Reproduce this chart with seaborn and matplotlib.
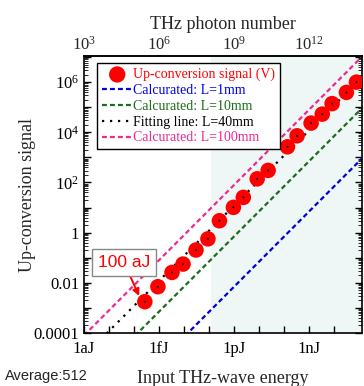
import numpy as np
import pandas as pd
import matplotlib
matplotlib.use('Agg')
import matplotlib.pyplot as plt
import seaborn as sns
from matplotlib.ticker import FixedLocator, FixedFormatter, LogLocator, NullFormatter

# Measured up-conversion signal vs input THz energy (J)
energy = [2.7e-16, 9.0e-16, 3.3e-15, 9.1e-15, 3.0e-14, 9.0e-14, 2.6e-13, 9.4e-13,
          2.34e-12, 8.4e-12, 2.3e-11, 1.36e-10, 3.3e-10, 1.2e-9, 3.34e-9, 8.3e-9,
          3.1e-8, 7.8e-8]
signal = [1.77e-3, 7.0e-3, 0.026, 0.056, 0.203, 0.566, 2.98, 10.2,
          25.5, 140, 303, 2640, 7260, 23300, 53100, 139000,
          389000, 1.0e6]

# Calculated / fitted lines, end points
line_x = [1e-18, 1.3e-7]
calc_1mm = [7e-9, 910]
calc_10mm = [7.1e-7, 9.2e4]
fit_40mm = [1.2e-5, 1.56e6]
calc_100mm = [8e-5, 1.04e7]

shade_start = 1.2e-13

sns.set_theme(style='ticks')
plt.rcParams['font.family'] = ['Liberation Serif', 'DejaVu Serif']
plt.rcParams['mathtext.fontset'] = 'custom'
plt.rcParams['mathtext.rm'] = 'Liberation Serif'
plt.rcParams['mathtext.it'] = 'Liberation Serif:italic'

fig = plt.figure(figsize=(3.64, 3.86), dpi=100)
ax = fig.add_axes([84 / 364, 1 - 333 / 386, 278 / 364, 277 / 386])
ax.set_facecolor('white')

ax.axvspan(shade_start, line_x[1], color='#eef7f6', zorder=0, lw=0)

df = pd.DataFrame({'energy': energy, 'signal': signal})
sns.scatterplot(data=df, x='energy', y='signal', ax=ax, color='#ff0000', s=125,
                edgecolor='none', label='Up-conversion signal (V)', zorder=4)
sns.scatterplot(data=df, x='energy', y='signal', ax=ax, color='black', s=2,
                edgecolor='none', legend=False, zorder=5)

dash = (0, (2.2, 1.4))
sns.lineplot(x=line_x, y=calc_1mm, ax=ax, color='#0000dd', lw=1.6, linestyle=dash,
             label='Calcurated: L=1mm', zorder=2)
sns.lineplot(x=line_x, y=calc_10mm, ax=ax, color='#1a6e1a', lw=1.6, linestyle=dash,
             label='Calcurated: L=10mm', zorder=2)
sns.lineplot(x=line_x, y=fit_40mm, ax=ax, color='black', lw=1.6, linestyle=(0, (1, 2.6)),
             label='Fitting line: L=40mm', zorder=2)
sns.lineplot(x=line_x, y=calc_100mm, ax=ax, color='#ee2a8e', lw=1.6, linestyle=dash,
             label='Calcurated: L=100mm', zorder=2)

ax.set_xscale('log')
ax.set_yscale('log')
ax.set_xlim(1e-18, 1.3e-7)
ax.set_ylim(1e-4, 1.1e7)

# x ticks
xt = [10.0 ** p for p in range(-18, -7)]
xlab = {-18: '1aJ', -15: '1fJ', -12: '1pJ', -9: '1nJ'}
ax.xaxis.set_major_locator(FixedLocator(xt))
ax.xaxis.set_major_formatter(FixedFormatter([xlab.get(p, '') for p in range(-18, -7)]))
ax.xaxis.set_minor_locator(FixedLocator([]))

# y ticks
yt = [10.0 ** p for p in range(-4, 8)]
ylab = {6: r'$10^6$', 4: r'$10^4$', 2: r'$10^2$', 0: '1', -2: '0.01', -4: '0.0001'}
ax.yaxis.set_major_locator(FixedLocator(yt))
ax.yaxis.set_major_formatter(FixedFormatter([ylab.get(p, '') for p in range(-4, 8)]))
ax.yaxis.set_minor_locator(LogLocator(base=10, subs=np.arange(2, 10), numticks=30))
ax.yaxis.set_minor_formatter(NullFormatter())

ax.tick_params(axis='both', which='major', direction='in', length=5, width=1,
               labelsize=12, colors='black')
ax.tick_params(axis='y', which='both', right=True, direction='in')
ax.tick_params(axis='y', which='minor', length=3, width=0.7)
ax.tick_params(axis='x', pad=6)
for s in ax.spines.values():
    s.set_visible(True)
    s.set_color('black')
    s.set_linewidth(1.2)

ax.set_xlabel('Input THz-wave energy', fontsize=13, labelpad=9)
ax.set_ylabel('Up-conversion signal', fontsize=13, labelpad=-2)

# top axis: photon number
sec = ax.secondary_xaxis('top', functions=(lambda e: e * 1e21, lambda n: n / 1e21))
sec.xaxis.set_major_locator(FixedLocator([1e3, 1e6, 1e9, 1e12]))
sec.xaxis.set_major_formatter(FixedFormatter([r'$10^3$', r'$10^6$', r'$10^9$', r'$10^{12}$']))
sec.xaxis.set_minor_locator(FixedLocator([]))
sec.tick_params(length=0, labelsize=12, pad=1.5)
sec.set_xlabel('THz photon number', fontsize=13, labelpad=5)

leg = ax.legend(loc='upper left', bbox_to_anchor=(0.047, 0.975), borderaxespad=0,
                fontsize=10, frameon=True, fancybox=False, edgecolor='black',
                framealpha=1, handlelength=2.2, handletextpad=0.02, labelspacing=0.2,
                borderpad=0.35, markerscale=1.05,
                labelcolor=['#ff0000', '#0000ee', '#1a6e1a', 'black', '#ee2a8e'])
leg.get_frame().set_linewidth(1.0)
leg.set_zorder(10)

ax.annotate('100 aJ', xy=(1.6e-16, 3.0e-3), xytext=(0.144, 0.2545),
            textcoords='axes fraction', ha='center', va='center',
            fontsize=12.5, color='#ff0000', family='Liberation Sans',
            bbox=dict(boxstyle='square,pad=0.35', fc='white', ec='#888888', lw=1),
            arrowprops=dict(arrowstyle='-|>', color='#ff0000', lw=1.4,
                            mutation_scale=10, shrinkA=0, shrinkB=0),
            zorder=11)

fig.text(5 / 364, 1 - 376 / 386, 'Average:512', fontsize=10.5, family='Liberation Sans',
         ha='left', va='center')

fig.savefig('out.png', dpi=100)
